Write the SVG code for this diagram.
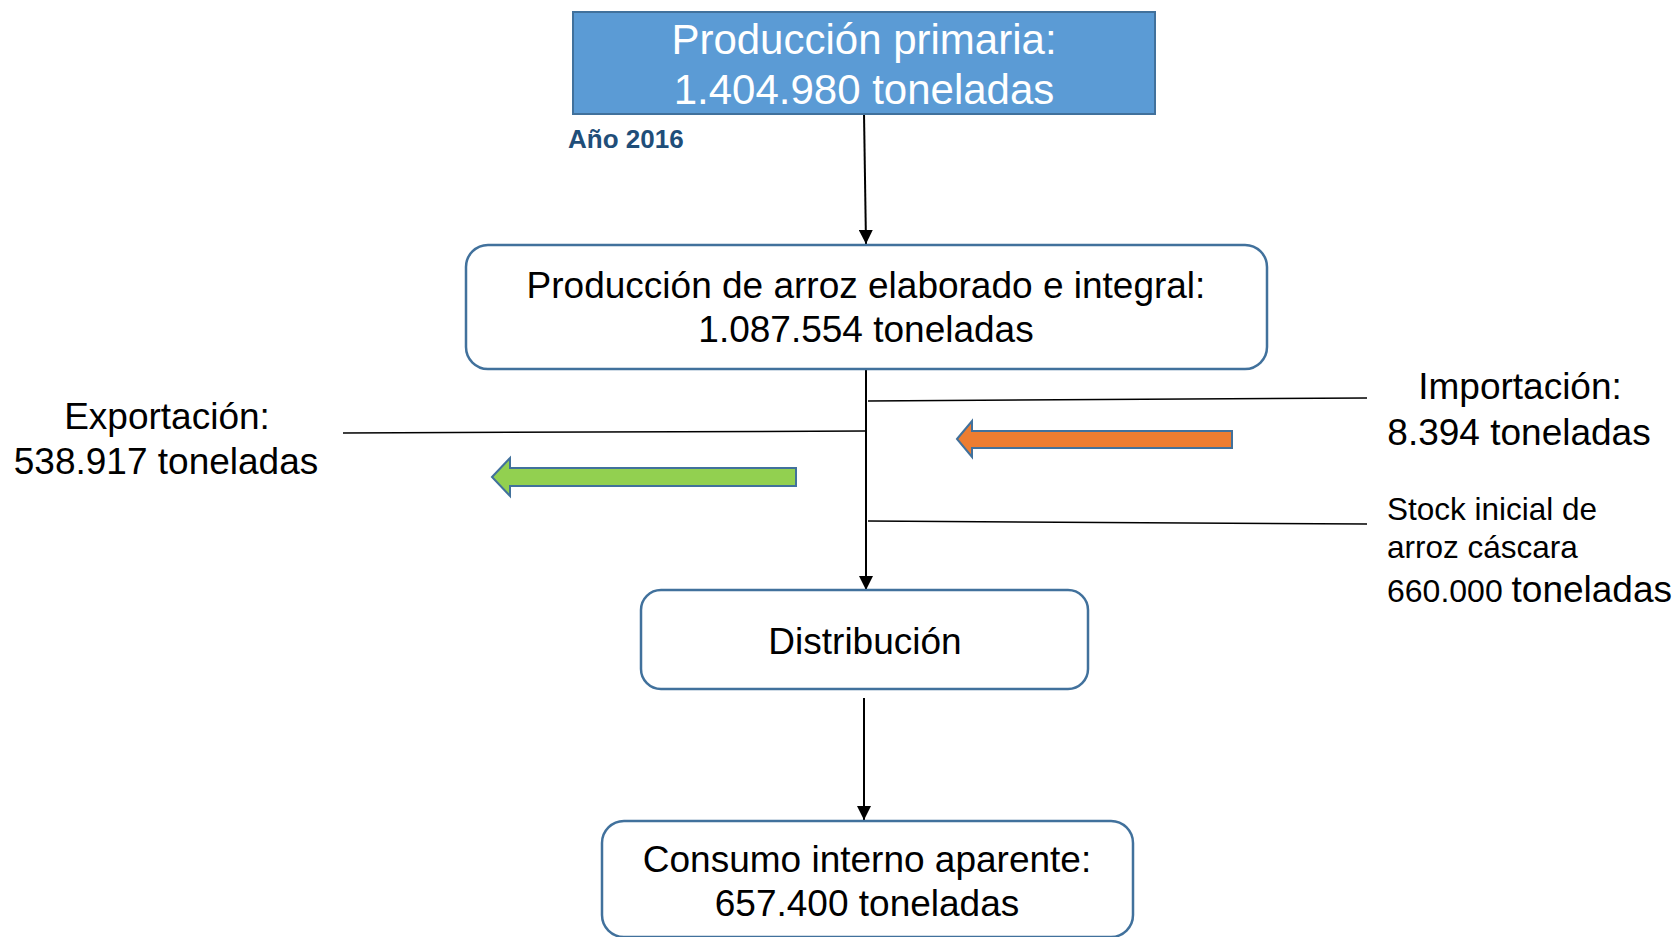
<svg xmlns="http://www.w3.org/2000/svg" width="1676" height="937" viewBox="0 0 1676 937">
<style>
text{font-family:"Liberation Sans",Arial,sans-serif;fill:#000}
.box{fill:#fff;stroke:#41719C;stroke-width:2.5}
.t37{font-size:37px}
.c{text-anchor:middle}
.line{stroke:#000;stroke-width:1.5;fill:none}
.con{stroke:#000;stroke-width:2;fill:none}
.fat{stroke:#41719C;stroke-width:2}
</style>
<defs>
<marker id="ah" viewBox="0 0 14 14" refX="14" refY="7" markerWidth="14" markerHeight="14" markerUnits="userSpaceOnUse" orient="auto">
<path d="M0,0 L14,7 L0,14 Z" fill="#000"/>
</marker>
</defs>
<rect width="1676" height="937" fill="#fff"/>
<g id="connectors">
<line class="con" x1="864" y1="113" x2="866" y2="244" marker-end="url(#ah)"/>
<line class="con" x1="866" y1="369" x2="866" y2="590" marker-end="url(#ah)"/>
<line class="con" x1="864" y1="698" x2="864" y2="820" marker-end="url(#ah)"/>
<line class="line" x1="868" y1="401" x2="1367" y2="398"/>
<line class="line" x1="343" y1="433" x2="865" y2="431"/>
<line class="line" x1="868" y1="521" x2="1367" y2="524"/>
</g>
<g id="orange-arrow">
<polygon class="fat" fill="#ED7D31" points="957,439 972,421 972,431 1232,431 1232,448 972,448 972,457"/>
</g>
<g id="green-arrow">
<polygon class="fat" fill="#92D050" points="492,477 510,458 510,468 796,468 796,486 510,486 510,496"/>
</g>
<g id="produccion-primaria">
<rect x="573" y="12" width="582" height="102" fill="#5B9BD5" stroke="#41719C" stroke-width="2"/>
<text x="864" y="54" font-size="42" class="c" style="fill:#fff">Producción primaria:</text>
<text x="864" y="104" font-size="42" class="c" style="fill:#fff">1.404.980 toneladas</text>
</g>
<g id="anio">
<text x="568" y="148" font-size="26" font-weight="bold" style="fill:#1F4E79">Año 2016</text>
</g>
<g id="produccion-arroz">
<rect class="box" x="466" y="245" width="801" height="124" rx="22"/>
<text x="866" y="298" class="t37 c">Producción de arroz elaborado e integral:</text>
<text x="866" y="342" class="t37 c">1.087.554 toneladas</text>
</g>
<g id="exportacion">
<text x="167" y="429" class="t37 c">Exportación:</text>
<text x="166" y="474" class="t37 c">538.917 toneladas</text>
</g>
<g id="importacion">
<text x="1520" y="399" class="t37 c">Importación:</text>
<text x="1519" y="445" class="t37 c">8.394 toneladas</text>
</g>
<g id="stock">
<text x="1387" y="520" font-size="31.5">Stock inicial de</text>
<text x="1387" y="558" font-size="31.5">arroz cáscara</text>
<text x="1387" y="602" font-size="32">660.000 <tspan font-size="37">toneladas</tspan></text>
</g>
<g id="distribucion">
<rect class="box" x="641" y="590" width="447" height="99" rx="20"/>
<text x="865" y="654" class="t37 c">Distribución</text>
</g>
<g id="consumo">
<rect class="box" x="602" y="821" width="531" height="116" rx="22"/>
<text x="867" y="872" class="t37 c">Consumo interno aparente:</text>
<text x="867" y="916" class="t37 c">657.400 toneladas</text>
</g>
</svg>
